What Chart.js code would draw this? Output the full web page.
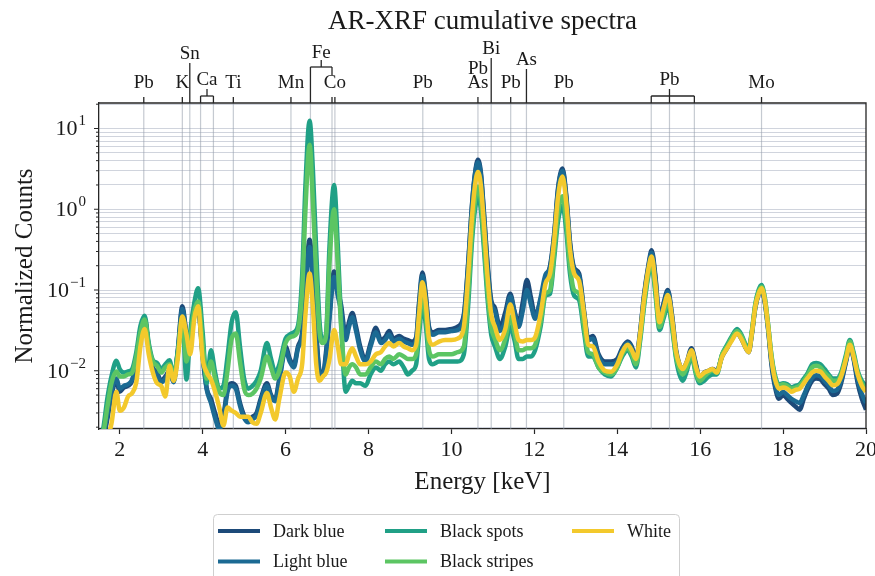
<!DOCTYPE html>
<html>
<head>
<meta charset="utf-8">
<title>AR-XRF cumulative spectra</title>
<script src="https://cdn.jsdelivr.net/npm/chart.js@4.4.1/dist/chart.umd.min.js"></script>
<style>
  html, body { margin: 0; padding: 0; background: #fff; }
  #wrap { width: 875px; height: 576px; }
</style>
</head>
<body>
<div id="wrap"><canvas id="spectra" width="875" height="576"></canvas></div>
<script>
// energy axis (keV), shared by all spectra
const energy = [
  1.5, 1.6, 1.7, 1.8, 1.92, 2.0, 2.1, 2.2, 2.3, 2.4, 2.5, 2.6, 2.7, 2.8, 2.9, 3.0, 3.1, 3.2, 3.3, 3.4,
  3.51, 3.61, 3.7, 3.8, 3.89, 4.0, 4.1, 4.2, 4.3, 4.4, 4.5, 4.6, 4.7, 4.8, 4.9, 5.0, 5.1, 5.2, 5.3, 5.4,
  5.55, 5.65, 5.75, 5.85, 6.0, 6.1, 6.2, 6.3,
  6.4, 6.48, 6.58, 6.66, 6.74, 6.82, 6.9, 6.98, 7.06, 7.17, 7.26, 7.34, 7.45, 7.53, 7.61, 7.7, 7.8, 7.93,
  8.05, 8.18, 8.3, 8.4, 8.5, 8.6, 8.74, 8.85, 8.95,
  9.05, 9.15, 9.22, 9.3, 9.38, 9.46, 9.55, 9.7, 9.85, 10.0, 10.15, 10.3, 10.4, 10.5, 10.57, 10.64, 10.71, 10.78, 10.87, 10.96,
  11.05, 11.17, 11.3, 11.42, 11.52, 11.62, 11.72, 11.82, 11.92, 12.02, 12.15, 12.27, 12.38, 12.48, 12.57, 12.68, 12.77, 12.86, 12.96, 13.08,
  13.2, 13.3, 13.41, 13.55, 13.7, 13.85, 14.0, 14.12, 14.25, 14.35, 14.45, 14.55, 14.65, 14.75, 14.83, 14.92, 15.02, 15.12, 15.22, 15.32,
  15.42, 15.5, 15.58, 15.68, 15.79, 15.9, 15.99, 16.1, 16.2, 16.3, 16.4,
  16.53, 16.65, 16.75, 16.89, 17.01, 17.1, 17.17, 17.25, 17.33, 17.41, 17.48, 17.56, 17.64, 17.72, 17.8,
  17.9, 18.0, 18.1, 18.2, 18.3, 18.4, 18.5, 18.6, 18.7, 18.8, 18.9, 19.0, 19.1, 19.2, 19.3, 19.4, 19.52, 19.61, 19.7, 19.8, 19.9, 20.0
];

const darkBlue = [
  0.0014, 0.0015, 0.0025, 0.005, 0.0075, 0.0055, 0.0062, 0.0065, 0.0075, 0.013, 0.032, 0.045, 0.02, 0.011, 0.0095, 0.0075, 0.0085, 0.01, 0.0075, 0.018,
  0.063, 0.03, 0.025, 0.05, 0.06, 0.016, 0.006, 0.0045, 0.003, 0.0022, 0.0028, 0.006, 0.007, 0.0065, 0.004, 0.0028, 0.0025, 0.0027, 0.003, 0.0045,
  0.007, 0.005, 0.0045, 0.008, 0.02, 0.014, 0.012, 0.02,
  0.03, 0.12, 0.42, 0.15, 0.03, 0.01, 0.009, 0.018, 0.05, 0.17, 0.1, 0.065, 0.027, 0.04, 0.052, 0.035, 0.02, 0.014,
  0.022, 0.034, 0.024, 0.026, 0.031, 0.025, 0.027, 0.025, 0.024,
  0.023, 0.026, 0.07, 0.165, 0.09, 0.035, 0.03, 0.032, 0.032, 0.033, 0.035, 0.05, 0.2, 1.2, 2.8, 4.1, 2.9, 1.0, 0.22, 0.075,
  0.06, 0.035, 0.053, 0.09, 0.055, 0.039, 0.07, 0.133, 0.08, 0.048, 0.075, 0.13, 0.2, 0.5, 1.8, 3.2, 1.5, 0.4, 0.19, 0.16,
  0.055, 0.025, 0.027, 0.016, 0.013, 0.013, 0.014, 0.019, 0.023, 0.02, 0.014, 0.03, 0.09, 0.2, 0.31, 0.15, 0.045, 0.07, 0.1, 0.05,
  0.018, 0.012, 0.0105, 0.013, 0.019, 0.012, 0.008, 0.0095, 0.01, 0.0105, 0.01,
  0.015, 0.019, 0.024, 0.029, 0.024, 0.019, 0.017, 0.029, 0.06, 0.088, 0.1, 0.07, 0.032, 0.012, 0.0065,
  0.0045, 0.005, 0.0045, 0.004, 0.0036, 0.0033, 0.0045, 0.006, 0.0075, 0.008, 0.0078, 0.0068, 0.006, 0.005, 0.0052, 0.007, 0.013, 0.02, 0.014, 0.007, 0.0045, 0.0033
];

const lightBlue = [
  0.0014, 0.0016, 0.0028, 0.0055, 0.008, 0.006, 0.0065, 0.0068, 0.0078, 0.013, 0.03, 0.043, 0.019, 0.0105, 0.009, 0.0072, 0.008, 0.0095, 0.0072, 0.017,
  0.058, 0.028, 0.024, 0.048, 0.058, 0.015, 0.0058, 0.004, 0.0026, 0.0019, 0.0025, 0.0055, 0.0065, 0.006, 0.0037, 0.0026, 0.0023, 0.0025, 0.0028, 0.0042,
  0.0065, 0.0048, 0.0042, 0.0075, 0.018, 0.013, 0.011, 0.019,
  0.027, 0.1, 0.34, 0.12, 0.026, 0.0095, 0.0085, 0.016, 0.045, 0.145, 0.085, 0.055, 0.024, 0.035, 0.046, 0.031, 0.018, 0.013,
  0.02, 0.03, 0.022, 0.024, 0.028, 0.023, 0.025, 0.023, 0.022,
  0.021, 0.024, 0.064, 0.15, 0.083, 0.032, 0.028, 0.03, 0.03, 0.031, 0.032, 0.046, 0.19, 1.15, 2.7, 3.8, 2.7, 0.92, 0.2, 0.068,
  0.055, 0.031, 0.042, 0.083, 0.054, 0.035, 0.055, 0.1, 0.065, 0.044, 0.08, 0.155, 0.19, 0.48, 1.7, 3.0, 1.4, 0.37, 0.18, 0.15,
  0.052, 0.024, 0.025, 0.015, 0.012, 0.012, 0.013, 0.018, 0.022, 0.019, 0.013, 0.029, 0.086, 0.19, 0.29, 0.14, 0.043, 0.066, 0.095, 0.047,
  0.017, 0.0115, 0.01, 0.0125, 0.018, 0.0115, 0.0078, 0.009, 0.0098, 0.0102, 0.0097,
  0.0155, 0.0195, 0.024, 0.03, 0.025, 0.0195, 0.0175, 0.03, 0.061, 0.09, 0.102, 0.072, 0.033, 0.013, 0.007,
  0.005, 0.0055, 0.005, 0.0045, 0.0042, 0.004, 0.005, 0.0066, 0.0082, 0.0088, 0.0085, 0.0075, 0.0066, 0.0056, 0.0058, 0.0076, 0.0135, 0.021, 0.0145, 0.0078, 0.0052, 0.004
];

const blackSpots = [
  0.0015, 0.0019, 0.0045, 0.0085, 0.0133, 0.0105, 0.0095, 0.0098, 0.0105, 0.017, 0.036, 0.048, 0.022, 0.0135, 0.0125, 0.0105, 0.012, 0.0135, 0.0085, 0.017,
  0.043, 0.0078, 0.03, 0.07, 0.105, 0.03, 0.007, 0.018, 0.0095, 0.006, 0.0065, 0.015, 0.04, 0.053, 0.02, 0.008, 0.006, 0.0065, 0.0075, 0.01,
  0.022, 0.014, 0.0095, 0.012, 0.025, 0.028, 0.03, 0.036,
  0.15, 2.0, 12.5, 3.0, 0.3, 0.04, 0.023, 0.03, 0.35, 2.0, 0.35, 0.04, 0.0055, 0.0065, 0.0075, 0.007, 0.007, 0.0065,
  0.009, 0.011, 0.01, 0.012, 0.013, 0.012, 0.013, 0.011, 0.009,
  0.01, 0.012, 0.028, 0.066, 0.038, 0.014, 0.012, 0.013, 0.013, 0.013, 0.013, 0.016, 0.06, 0.42, 1.0, 1.45, 1.0, 0.35, 0.08, 0.028,
  0.02, 0.014, 0.02, 0.035, 0.024, 0.014, 0.014, 0.015, 0.015, 0.018, 0.035, 0.085, 0.09, 0.25, 0.7, 1.1, 0.55, 0.16, 0.085, 0.075,
  0.03, 0.015, 0.015, 0.011, 0.009, 0.0085, 0.011, 0.015, 0.018, 0.015, 0.011, 0.023, 0.065, 0.15, 0.21, 0.09, 0.032, 0.045, 0.065, 0.035,
  0.014, 0.009, 0.0075, 0.01, 0.015, 0.009, 0.007, 0.0075, 0.0085, 0.009, 0.009,
  0.016, 0.021, 0.026, 0.033, 0.027, 0.021, 0.019, 0.032, 0.067, 0.1, 0.115, 0.08, 0.037, 0.0155, 0.009,
  0.0068, 0.007, 0.0068, 0.0062, 0.0065, 0.0068, 0.008, 0.0095, 0.012, 0.0125, 0.012, 0.0105, 0.009, 0.008, 0.008, 0.0095, 0.016, 0.024, 0.017, 0.01, 0.0075, 0.0065
];

const blackStripes = [
  0.0015, 0.0017, 0.0035, 0.007, 0.0098, 0.0085, 0.0085, 0.009, 0.0095, 0.015, 0.03, 0.043, 0.02, 0.013, 0.0115, 0.0095, 0.011, 0.012, 0.0085, 0.016,
  0.045, 0.013, 0.025, 0.055, 0.072, 0.022, 0.008, 0.013, 0.008, 0.0055, 0.005, 0.01, 0.025, 0.029, 0.013, 0.006, 0.005, 0.0052, 0.006, 0.008,
  0.015, 0.011, 0.008, 0.01, 0.022, 0.026, 0.027, 0.032,
  0.1, 1.0, 6.3, 1.2, 0.15, 0.03, 0.022, 0.028, 0.22, 1.0, 0.2, 0.035, 0.009, 0.011, 0.012, 0.011, 0.009, 0.009,
  0.011, 0.013, 0.012, 0.014, 0.015, 0.014, 0.016, 0.015, 0.014,
  0.014, 0.016, 0.035, 0.09, 0.05, 0.018, 0.015, 0.016, 0.016, 0.016, 0.017, 0.02, 0.08, 0.55, 1.3, 1.9, 1.3, 0.45, 0.1, 0.035,
  0.025, 0.018, 0.025, 0.046, 0.03, 0.018, 0.018, 0.019, 0.019, 0.021, 0.04, 0.09, 0.1, 0.3, 0.9, 1.45, 0.7, 0.2, 0.1, 0.09,
  0.035, 0.017, 0.016, 0.011, 0.0095, 0.009, 0.011, 0.016, 0.019, 0.016, 0.012, 0.025, 0.07, 0.16, 0.23, 0.1, 0.035, 0.05, 0.075, 0.038,
  0.015, 0.0105, 0.009, 0.011, 0.016, 0.0095, 0.0075, 0.0085, 0.0095, 0.01, 0.0095,
  0.016, 0.02, 0.025, 0.031, 0.026, 0.02, 0.018, 0.031, 0.065, 0.095, 0.11, 0.078, 0.036, 0.015, 0.0085,
  0.0065, 0.0068, 0.0065, 0.006, 0.0062, 0.0065, 0.0075, 0.009, 0.011, 0.0115, 0.011, 0.0095, 0.0085, 0.0075, 0.0075, 0.009, 0.015, 0.023, 0.016, 0.0095, 0.007, 0.006
];

const white = [
  0.0012, 0.0013, 0.0015, 0.0022, 0.0055, 0.0032, 0.0035, 0.0048, 0.0053, 0.0072, 0.02, 0.033, 0.016, 0.0095, 0.007, 0.0065, 0.0048, 0.0115, 0.0075, 0.014,
  0.047, 0.028, 0.016, 0.045, 0.063, 0.014, 0.0095, 0.0078, 0.0055, 0.0035, 0.0021, 0.0035, 0.0032, 0.003, 0.0027, 0.0027, 0.0027, 0.0023, 0.0022, 0.003,
  0.0053, 0.0035, 0.0025, 0.0045, 0.0095, 0.0085, 0.0055, 0.008,
  0.012, 0.05, 0.16, 0.06, 0.012, 0.0075, 0.0085, 0.0095, 0.014, 0.032, 0.02, 0.012, 0.012, 0.016, 0.019, 0.015, 0.012, 0.012,
  0.013, 0.016, 0.017, 0.02, 0.022, 0.02, 0.022, 0.02, 0.019,
  0.018, 0.021, 0.05, 0.125, 0.07, 0.025, 0.021, 0.023, 0.024, 0.024, 0.025, 0.035, 0.14, 0.85, 2.0, 2.9, 2.0, 0.7, 0.15, 0.05,
  0.035, 0.024, 0.033, 0.066, 0.04, 0.024, 0.023, 0.024, 0.024, 0.026, 0.05, 0.12, 0.16, 0.42, 1.4, 2.55, 1.2, 0.32, 0.16, 0.13,
  0.05, 0.021, 0.02, 0.013, 0.01, 0.0097, 0.012, 0.017, 0.021, 0.018, 0.014, 0.028, 0.08, 0.18, 0.26, 0.12, 0.04, 0.06, 0.087, 0.045,
  0.017, 0.012, 0.0105, 0.013, 0.018, 0.011, 0.0085, 0.0095, 0.01, 0.0105, 0.0095,
  0.015, 0.019, 0.023, 0.029, 0.024, 0.019, 0.017, 0.03, 0.062, 0.09, 0.105, 0.075, 0.035, 0.014, 0.008,
  0.006, 0.0062, 0.006, 0.0055, 0.0058, 0.006, 0.007, 0.0082, 0.0095, 0.01, 0.0098, 0.0085, 0.0075, 0.0066, 0.0068, 0.0085, 0.014, 0.021, 0.015, 0.009, 0.0065, 0.0055
];

const seriesNames = ['Dark blue', 'Light blue', 'Black spots', 'Black stripes', 'White'];
const seriesValues = [darkBlue, lightBlue, blackSpots, blackStripes, white];
const seriesColors = ['#1d4a79', '#1b6a93', '#20a086', '#5cc563', '#f3c92c'];

const xTicks = [2, 4, 6, 8, 10, 12, 14, 16, 18, 20];
const yDecades = [-2, -1, 0, 1];

// emission lines marked along the top edge
const elementMarks = [
  { label: 'Pb', at: [2.58], kind: 'tick' },
  { label: 'K', at: [3.51], kind: 'tick' },
  { label: 'Sn', at: [3.69], kind: 'tall' },
  { label: 'Ca', at: [3.95, 4.26], kind: 'bracket' },
  { label: 'Ti', at: [4.74], kind: 'tick' },
  { label: 'Mn', at: [6.13], kind: 'tick' },
  { label: 'Fe', at: [6.6, 7.12], kind: 'highBracket' },
  { label: 'Co', at: [7.19], kind: 'tick' },
  { label: 'Pb', at: [9.31], kind: 'tick' },
  { label: 'As', at: [10.64], kind: 'tick', over: 'Pb' },
  { label: 'Bi', at: [10.96], kind: 'tall' },
  { label: 'Pb', at: [11.43], kind: 'tick' },
  { label: 'As', at: [11.81], kind: 'tall' },
  { label: 'Pb', at: [12.71], kind: 'tick' },
  { label: 'Pb', at: [14.82, 15.26, 15.86], kind: 'bracket' },
  { label: 'Mo', at: [17.48], kind: 'tick' }
];

const SERIF = "'Liberation Serif', 'Times New Roman', serif";
const INK = '#1a1a1a';

const decor = {
  id: 'decor',
  beforeDatasetsDraw(chart) {
    const { ctx, chartArea: a, scales: { x } } = chart;
    ctx.save();
    ctx.strokeStyle = 'rgba(150, 158, 172, 0.55)';
    ctx.lineWidth = 1.2;
    elementMarks.forEach(m => m.at.forEach(e => {
      const px = x.getPixelForValue(e);
      ctx.beginPath();
      ctx.moveTo(px, a.top);
      ctx.lineTo(px, a.bottom);
      ctx.stroke();
    }));
    ctx.restore();
  },
  afterDraw(chart) {
    const { ctx, chartArea: a, scales: { x, y } } = chart;
    ctx.save();

    // frame top / right
    ctx.strokeStyle = '#262626';
    ctx.lineWidth = 1.3;
    ctx.beginPath();
    ctx.moveTo(a.left, a.top);
    ctx.lineTo(a.right, a.top);
    ctx.lineTo(a.right, a.bottom);
    ctx.stroke();

    // y ticks, major and minor
    ctx.lineWidth = 1;
    y.ticks.forEach(t => {
      const py = y.getPixelForValue(t.value);
      const len = t.major ? 5 : 3;
      ctx.beginPath();
      ctx.moveTo(a.left - len, py);
      ctx.lineTo(a.left, py);
      ctx.stroke();
    });

    // y tick labels as 10^n
    ctx.fillStyle = INK;
    ctx.textBaseline = 'middle';
    ctx.textAlign = 'left';
    yDecades.forEach(n => {
      const py = y.getPixelForValue(Math.pow(10, n));
      const sup = n < 0 ? '\u2212' + Math.abs(n) : String(n);
      ctx.font = '15px ' + SERIF;
      const wSup = ctx.measureText(sup).width;
      ctx.font = '22px ' + SERIF;
      const wBase = ctx.measureText('10').width;
      const right = a.left - 13;
      ctx.fillText('10', right - wSup - 1 - wBase, py + 1);
      ctx.font = '15px ' + SERIF;
      ctx.fillText(sup, right - wSup, py - 7);
    });

    // title
    ctx.textAlign = 'center';
    ctx.font = '27px ' + SERIF;
    ctx.fillText('AR-XRF cumulative spectra', (a.left + a.right) / 2, 22);

    // element annotations above the frame
    const T = a.top;
    ctx.strokeStyle = '#262626';
    ctx.lineWidth = 1.3;
    ctx.font = '19px ' + SERIF;
    const seg = (x1, y1, x2, y2) => {
      ctx.beginPath();
      ctx.moveTo(x1, y1);
      ctx.lineTo(x2, y2);
      ctx.stroke();
    };
    elementMarks.forEach(m => {
      const px = m.at.map(e => x.getPixelForValue(e));
      if (m.kind === 'tick') {
        seg(px[0], T - 6, px[0], T);
        ctx.fillText(m.label, px[0], T - 20);
        if (m.over) ctx.fillText(m.over, px[0], T - 34);
      } else if (m.kind === 'tall') {
        const top = m.label === 'Sn' ? T - 40 : (m.label === 'Bi' ? T - 45 : T - 34);
        seg(px[0], top, px[0], T);
        ctx.fillText(m.label, px[0], top - 9);
      } else if (m.kind === 'bracket') {
        const by = T - 7;
        seg(px[0], by, px[px.length - 1], by);
        px.forEach(p => seg(p, by, p, T));
        const mid = px.length === 3 ? px[1] : (px[0] + px[1]) / 2;
        seg(mid, by, mid, by - 7);
        ctx.fillText(m.label, mid, T - 23);
      } else if (m.kind === 'highBracket') {
        const by = T - 36;
        seg(px[0], by, px[1], by);
        seg(px[0], by, px[0], T);
        seg(px[1], by, px[1], by + 8);
        seg(px[1], T - 6, px[1], T);
        const mid = (px[0] + px[1]) / 2;
        seg(mid, by, mid, by - 7);
        ctx.fillText(m.label, mid, T - 50);
      }
    });

    // legend, three columns filled top to bottom
    ctx.fillStyle = 'rgba(255,255,255,0.85)';
    ctx.strokeStyle = '#cfcfcf';
    ctx.lineWidth = 1;
    ctx.beginPath();
    ctx.roundRect(213.5, 514.5, 466, 80, 4);
    ctx.fill();
    ctx.stroke();
    const colX = [218, 385, 572];
    const rowY = [531, 561.5];
    ctx.font = '18px ' + SERIF;
    ctx.textAlign = 'left';
    seriesNames.forEach((name, i) => {
      const cx = colX[Math.floor(i / 2)];
      const cy = rowY[i % 2];
      ctx.strokeStyle = seriesColors[i];
      ctx.lineWidth = 4;
      seg(cx, cy, cx + 42, cy);
      ctx.fillStyle = INK;
      ctx.fillText(name, cx + 55, cy + 1);
    });

    ctx.restore();
  }
};

new Chart(document.getElementById('spectra'), {
  type: 'line',
  data: {
    datasets: seriesNames.map((name, i) => ({
      label: name,
      data: energy.map((e, k) => ({ x: e, y: seriesValues[i][k] })),
      borderColor: seriesColors[i],
      backgroundColor: seriesColors[i],
      borderWidth: 4.5,
      pointRadius: 0,
      fill: false,
      cubicInterpolationMode: 'monotone',
      borderJoinStyle: 'round',
      order: seriesNames.length - i
    }))
  },
  options: {
    responsive: false,
    animation: false,
    layout: { padding: { left: 0, right: 9, top: 103, bottom: 79 } },
    plugins: {
      legend: { display: false },
      tooltip: { enabled: false }
    },
    scales: {
      x: {
        type: 'linear',
        min: 1.5,
        max: 20,
        afterBuildTicks: s => { s.ticks = xTicks.map(v => ({ value: v })); },
        afterFit: s => { s.height = 68; s.paddingLeft = 0; s.paddingRight = 0; },
        grid: { drawOnChartArea: false, drawTicks: true, tickLength: 5, tickColor: '#262626', tickWidth: 1.2 },
        border: { color: '#262626', width: 1.3 },
        ticks: { font: { family: SERIF, size: 22 }, color: INK, maxRotation: 0, autoSkip: false, padding: 3 },
        title: { display: true, text: 'Energy [keV]', font: { family: SERIF, size: 25 }, color: INK, padding: 0 }
      },
      y: {
        type: 'logarithmic',
        min: 0.0019,
        max: 20.7,
        afterBuildTicks: s => {
          const vals = [];
          for (let e = -3; e <= 1; e++) {
            for (let m = 1; m <= 9; m++) {
              const v = Number((m * Math.pow(10, e)).toPrecision(2));
              if (v >= s.min && v <= s.max) vals.push({ value: v, major: m === 1 });
            }
          }
          s.ticks = vals;
        },
        afterFit: s => { s.width = 99; },
        grid: { color: 'rgba(176, 184, 198, 0.6)', lineWidth: 1, drawTicks: false },
        border: { color: '#262626', width: 1.3 },
        ticks: { display: false },
        title: { display: true, text: 'Normalized Counts', font: { family: SERIF, size: 25 }, color: INK, padding: { top: 10, bottom: 0 } }
      }
    }
  },
  plugins: [decor]
});
</script>
</body>
</html>
